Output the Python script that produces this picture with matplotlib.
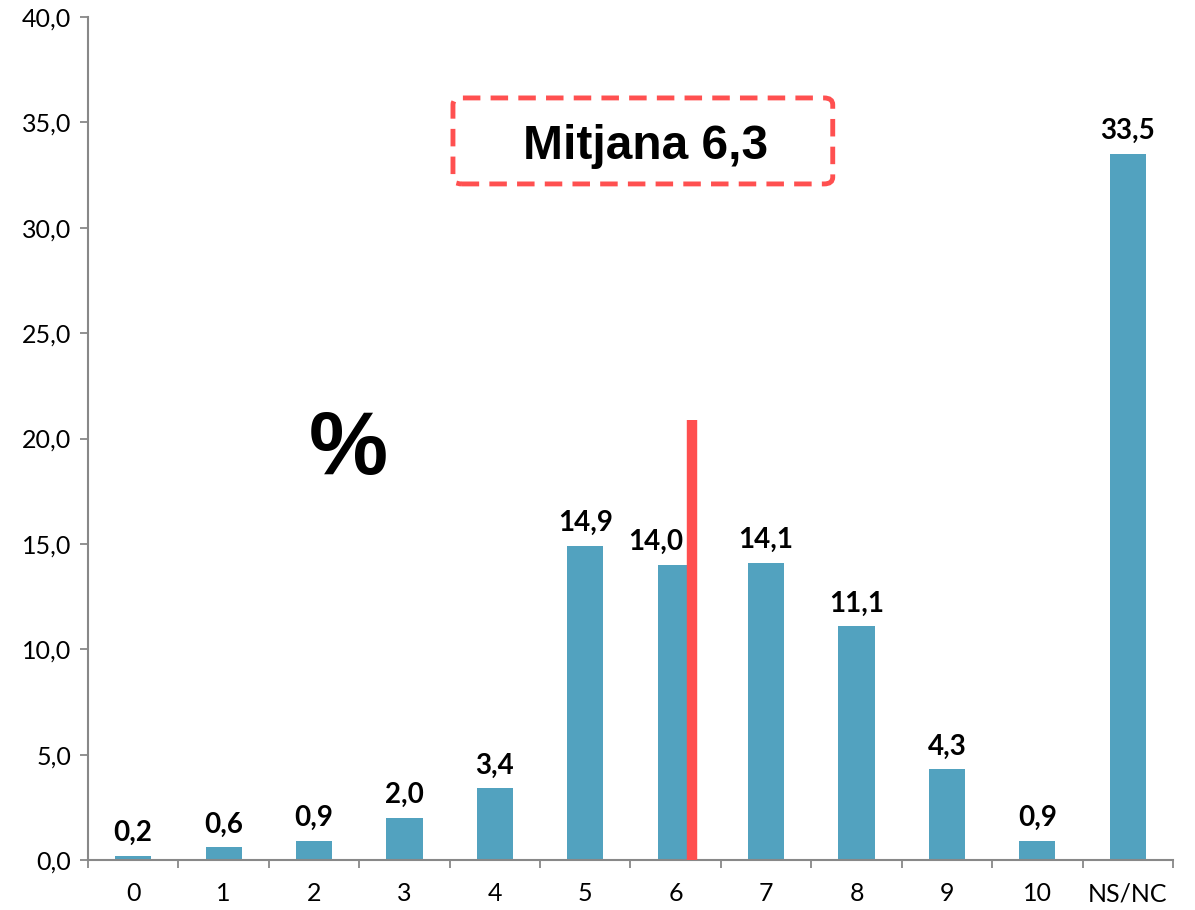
import matplotlib.pyplot as plt
from matplotlib.patches import FancyBboxPatch

categories = ['0', '1', '2', '3', '4', '5', '6', '7', '8', '9', '10', 'NS/NC']
values = [0.2, 0.6, 0.9, 2.0, 3.4, 14.9, 14.0, 14.1, 11.1, 4.3, 0.9, 33.5]
mean_label = 'Mitjana 6,3'
mean_pos = 6.18  # visual position of red marker between categories

plt.rcParams['font.family'] = ['Lato', 'DejaVu Sans']

fig = plt.figure(figsize=(11.95, 9.1), dpi=100)
ax = fig.add_axes([0.0736, 0.0549, 0.908, 0.9264])

x = list(range(len(categories)))
ax.bar(x, values, width=0.4, color='#52A2BF', zorder=2)

for i, v in enumerate(values):
    dx = -0.22 if i == 6 else 0  # label pushed left of the red marker
    ax.annotate(f'{v:.1f}'.replace('.', ','), (i + dx, v), xytext=(0, 7),
                textcoords='offset points', ha='center', va='bottom',
                fontsize=20, fontweight='bold')

# red mean marker
ax.plot([mean_pos, mean_pos], [0, 20.9], color='#FF4F4F', linewidth=7.5,
        solid_capstyle='butt', zorder=3)

ax.set_xlim(-0.5, len(categories) - 0.5)
ax.set_ylim(0, 40)
ax.set_yticks(range(0, 41, 5))
ax.set_yticklabels([f'{t:.1f}'.replace('.', ',') for t in range(0, 41, 5)], fontsize=18)
ax.set_xticks(x)
ax.set_xticklabels(categories, fontsize=18)
ax.set_xticks([i + 0.5 for i in range(-1, len(categories))], minor=True)
ax.tick_params(axis='x', which='major', length=0, pad=16)
ax.tick_params(axis='x', which='minor', length=6, color='#888888', width=1.3)
ax.tick_params(axis='y', length=6, color='#888888', width=1.3, pad=6)

for s in ['top', 'right']:
    ax.spines[s].set_visible(False)
for s in ['left', 'bottom']:
    ax.spines[s].set_color('#888888')
    ax.spines[s].set_linewidth(1.5)

# mean box
box = FancyBboxPatch((0.3364, 0.802), 0.350, 0.102, transform=ax.transAxes,
                     boxstyle='round,pad=0,rounding_size=0.008', fill=False,
                     edgecolor='#FF5050', linewidth=3.5, linestyle=(0, (3.6, 2.1)))
ax.add_patch(box)
ax.text(0.514, 0.846, mean_label, transform=ax.transAxes, ha='center', va='center',
        fontsize=34.5, fontweight='bold', family='Liberation Sans')

ax.text(0.2395, 0.485, '%', transform=ax.transAxes, ha='center', va='center',
        fontsize=64, fontweight='bold', family='Liberation Sans')

fig.savefig('out.png', dpi=100)
